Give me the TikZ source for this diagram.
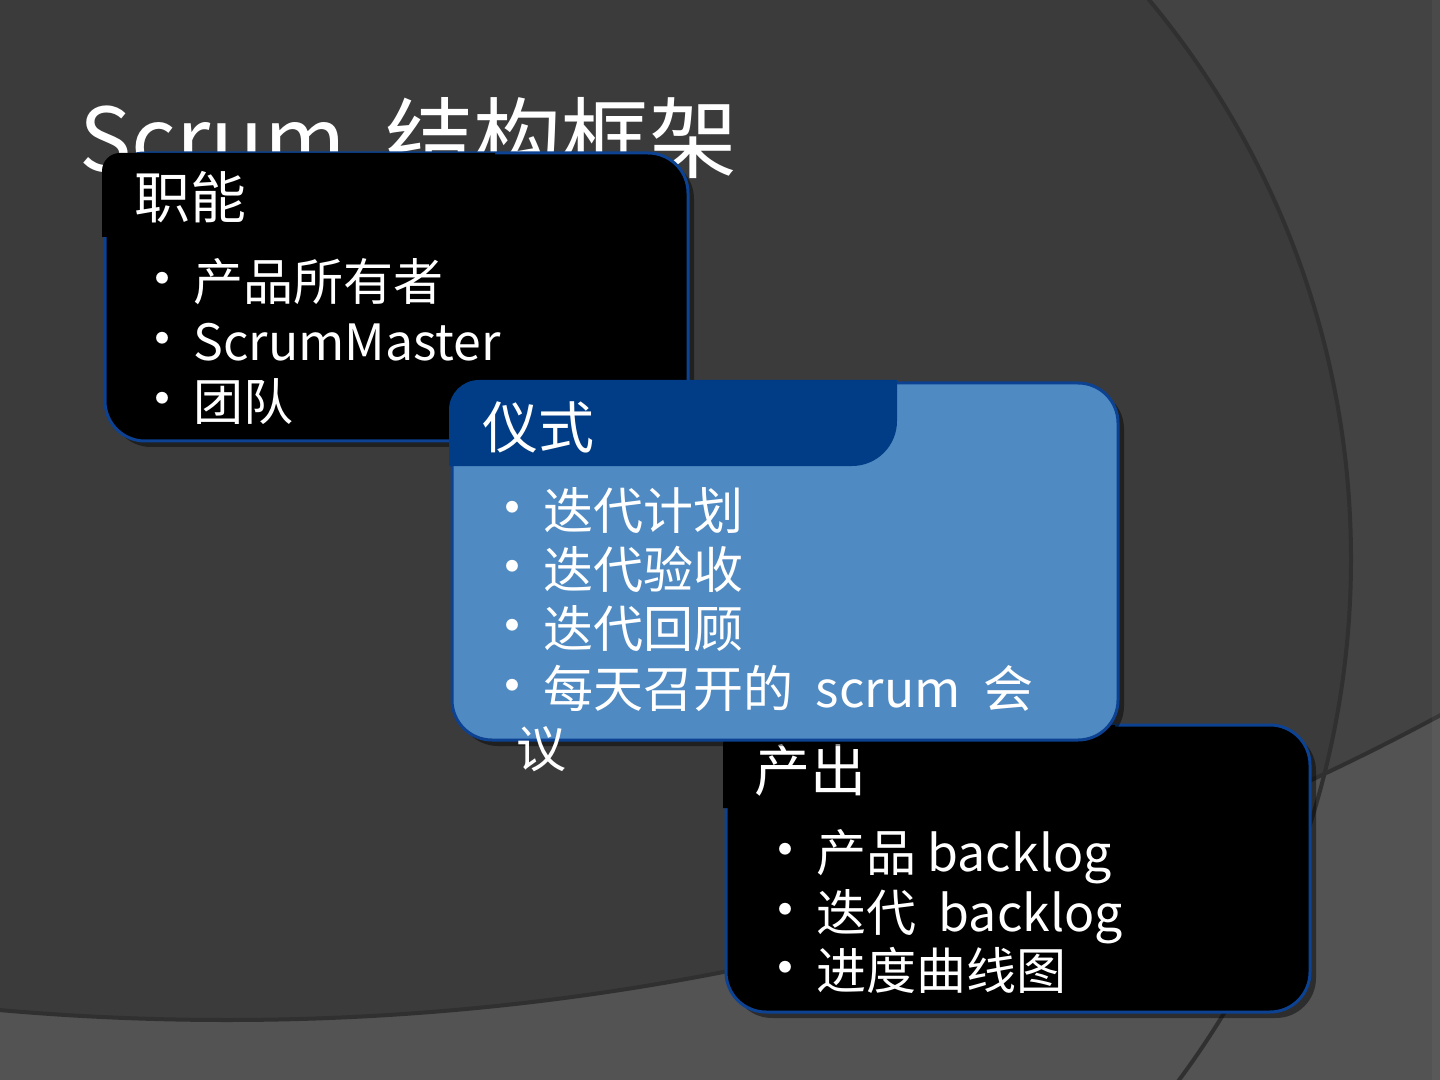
\documentclass[tikz,border=0pt]{standalone}
\usepackage{fontspec}
\setmainfont{Noto Sans CJK SC}
\usepackage{tikz}
\usetikzlibrary{shadows}

\definecolor{slate}{HTML}{3B3B3B}
\definecolor{wall}{HTML}{434343}
\definecolor{floor}{HTML}{535353}
\definecolor{seam}{HTML}{303030}
\definecolor{rimblue}{RGB}{12,66,145}
\definecolor{navyhead}{RGB}{0,61,134}
\definecolor{skyblue}{RGB}{79,138,194}

\begin{document}
\begin{tikzpicture}[x=0.5pt,y=0.5pt,
  rim/.style={draw=rimblue,line width=1.5pt,rounded corners=20pt},
  lift/.style={drop shadow={shadow xshift=3pt,shadow yshift=-3pt,opacity=.45,fill=black}},
  entry/.style={anchor=base west,inner sep=0pt,text=white,font=\fontsize{25}{30}\selectfont},
  hdtext/.style={anchor=base west,inner sep=0pt,text=white,font=\fontsize{28}{34}\selectfont},
  bul/.style={anchor=base,inner sep=0pt,text=white,font=\fontsize{28}{34}\selectfont}]

  \useasboundingbox (0,0) rectangle (1440,-1080);

  % slide background with the two big arcs
  \begin{scope}
    \clip (0,0) rectangle (1440,-1080);
    \fill[floor] (0,0) rectangle (1440,-1080);
    \begin{scope}
      \clip (227,1543) circle[radius=2563];
      \fill[wall] (0,0) rectangle (1440,-1080);
      \fill[slate] (476,-559) circle[radius=875];
    \end{scope}
    \draw[seam,line width=2pt] (476,-559) circle[radius=875];
    \draw[seam,line width=2pt] (227,1543) circle[radius=2563];
    \fill[white,opacity=.04] (1432,0) rectangle (1440,-1080);
  \end{scope}

  \node[anchor=base west,inner sep=0pt,text=white,font=\fontsize{44}{52}\selectfont]
    (title) at (79,-172) {Scrum~~结构框架};

  % roles
  \draw[rim,fill=black,lift] (105,-153) rectangle (688,-441);
  \fill[black] (102,-237) -- (102,-171) arc[start angle=180,end angle=90,radius=18]
    -- (495,-153) -- (495,-200) arc[start angle=0,end angle=-90,radius=37] -- cycle;
  \node[hdtext] (roles) at (134,-219) {职能};
  \foreach \t/\b [count=\i] in {产品所有者/301, ScrumMaster/361, 团队/421} {
    \node[entry] (role\i) at (193,-\b) {\t};
    \node[bul] (roledot\i) at (162,{1-\b}) {•};
  }

  % artifacts
  \draw[rim,fill=black,lift] (726,-725) rectangle (1310,-1012);
  \fill[black] (723,-808) -- (723,-745) arc[start angle=180,end angle=90,radius=20]
    -- (1115,-725) -- (1115,-771) arc[start angle=0,end angle=-90,radius=37] -- cycle;
  \node[hdtext] (outs) at (754,-791) {产出};
  \foreach \t/\b [count=\i] in {产品 backlog/871, 迭代~~backlog/931, 进度曲线图/989} {
    \node[entry] (out\i) at (816,-\b) {\t};
    \node[bul] (outdot\i) at (785,{1-\b}) {•};
  }

  % ceremonies
  \draw[rim,fill=skyblue,lift] (452,-383) rectangle (1118,-740);
  \fill[navyhead] (449,-466) -- (449,-410) arc[start angle=180,end angle=90,radius=30]
    -- (897,-380) -- (897,-421) arc[start angle=0,end angle=-90,radius=45] -- cycle;
  \node[hdtext] (rites) at (482,-449) {仪式};
  \foreach \t/\b [count=\i] in {迭代计划/529, 迭代验收/588, 迭代回顾/647, 每天召开的~~scrum~~会/707} {
    \node[entry] (rite\i) at (543,-\b) {\t};
    \node[bul] (ritedot\i) at (512,{1-\b}) {•};
  }
  \node[entry] (rite4b) at (516,-767) {议};
\end{tikzpicture}
\end{document}
